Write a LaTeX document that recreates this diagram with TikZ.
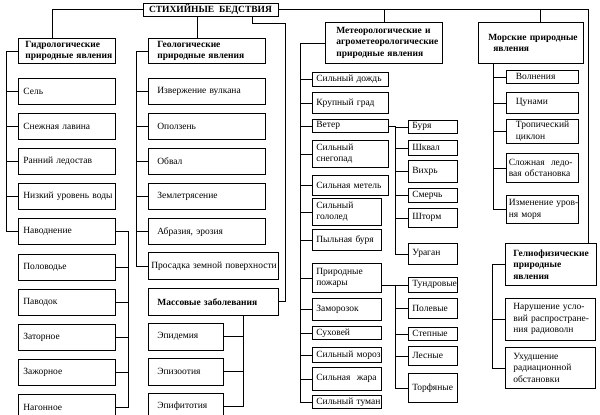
\documentclass[tikz,border=0pt]{standalone}
\usepackage{fontspec}
\setmainfont{Liberation Serif}
\usetikzlibrary{positioning}
\exhyphenpenalty=10000
\hyphenpenalty=10000

\tikzset{
  cell/.style={draw,line width=0.7pt,anchor=north west,align=left,inner ysep=0pt,
    font=\fontsize{9.5}{11.5}\selectfont},
  head/.style={cell,font=\fontsize{9.5}{11.5}\selectfont\bfseries},
  hyd/.style={cell,inner xsep=5pt,text width=87pt,minimum height=26pt},
  geo/.style={cell,inner xsep=9pt,text width=99pt,minimum height=26pt},
  epi/.style={cell,inner xsep=9pt,text width=57pt,minimum height=27pt},
  met/.style={cell,inner xsep=4pt,text width=68pt},
  metn/.style={cell,inner xsep=4pt,text width=61pt},
  sub/.style={cell,inner xsep=4pt,text width=41pt},
  mar/.style={cell,inner xsep=3pt,text width=66pt},
  gel/.style={cell,inner xsep=8pt,text width=74pt},
  link/.style={line width=0.7pt},
}

\begin{document}
\begin{tikzpicture}[x=1pt,y=-1pt]
\useasboundingbox (0,0) rectangle (600,415);

\node[draw,line width=0.7pt,minimum width=135pt,minimum height=13pt,inner sep=0pt,
      font=\fontsize{9.5}{11.5}\selectfont\bfseries] (bedstv) at (210.5,9.5)
  {СТИХИЙНЫЕ\ \ БЕДСТВИЯ};

\node[head,inner xsep=7pt,text width=83pt,minimum height=25pt] (hydro) at (18,38)
  {Гидрологические\\природные~явления};
\node[hyd] (sel) at (18,78) {Сель};
\node[hyd,below=8.4pt of sel] (lavina) {Снежная~лавина};
\node[hyd,below=8.4pt of lavina] (ledostav) {Ранний~ледостав};
\node[hyd,below=8.4pt of ledostav] (voda) {Низкий~уровень~воды};
\node[hyd,below=8.4pt of voda] (navod) {Наводнение};
\node[hyd,below=8.4pt of navod] (polovod) {Половодье};
\node[hyd,below=8.4pt of polovod] (pavodok) {Паводок};
\node[hyd,below=8.4pt of pavodok] (zator) {Заторное};
\node[hyd,below=8.4pt of zator] (zazhor) {Зажорное};
\node[hyd,below=8.4pt of zazhor] (nagon) {Нагонное};

\node[head,inner xsep=9pt,text width=99pt,minimum height=25pt] (geol) at (148,38)
  {Геологические\\природные~явления};
\node[geo] (vulkan) at (148,78) {Извержение~вулкана};
\node[geo,below=8.4pt of vulkan] (opolz) {Оползень};
\node[geo,below=8.4pt of opolz] (obval) {Обвал};
\node[geo,below=8.4pt of obval] (zemlet) {Землетрясение};
\node[geo,below=8.4pt of zemlet] (abraz) {Абразия,~эрозия};
\node[cell,inner xsep=3pt,text width=124pt,minimum height=27pt,
      below=7pt of abraz.south west,anchor=north west] (prosad)
  {Просадка~земной~поверхности};
\node[head,inner xsep=9pt,text width=112pt,minimum height=27pt,
      below=8pt of prosad] (massov) {Массовые~заболевания};
\node[epi,below=7pt of massov.south west,anchor=north west] (epidem) {Эпидемия};
\node[epi,below=7.4pt of epidem] (epizoot) {Эпизоотия};
\node[epi,below=7.4pt of epizoot] (epifit) {Эпифитотия};

\node[head,inner xsep=11pt,text width=95pt,minimum height=41pt] (meteo) at (325,22)
  {Метеорологические~и\\агрометеорологические\\природные~явления};
\node[met,minimum height=14pt] (dozhd) at (312,72) {Сильный~дождь};
\node[met,minimum height=21pt] (grad) at (312,92) {Крупный~град};
\node[met,minimum height=13pt] (veter) at (312,119) {Ветер};
\node[met,minimum height=27pt] (snegopad) at (312,140) {Сильный\\снегопад};
\node[met,minimum height=20pt] (metel) at (312,175) {Сильная~метель};
\node[metn,minimum height=27pt] (gololed) at (312,198) {Сильный\\гололед};
\node[metn,minimum height=21pt] (pylbur) at (312,229) {Пыльная~буря};
\node[metn,minimum height=29pt] (pozhar) at (312,263) {Природные\\пожары};
\node[metn,minimum height=22pt] (zamoroz) at (312,298) {Заморозок};
\node[metn,minimum height=13pt] (suhovei) at (312,326) {Суховей};
\node[metn,minimum height=15pt] (moroz) at (312,347) {Сильный~мороз};
\node[metn,minimum height=23pt] (zhara) at (312,367) {Сильная~~жара};
\node[metn,minimum height=13pt] (tuman) at (312,395) {Сильный~туман};

\node[sub,minimum height=13pt] (burya) at (408,120) {Буря};
\node[sub,minimum height=15pt] (shkval) at (408,140) {Шквал};
\node[sub,minimum height=22pt] (vihr) at (408,160) {Вихрь};
\node[sub,minimum height=14pt] (smerch) at (408,188) {Смерчь};
\node[sub,minimum height=19pt] (shtorm) at (408,208) {Шторм};
\node[sub,minimum height=21pt] (uragan) at (408,243) {Ураган};

\node[sub,minimum height=15pt] (tundr) at (408,277) {Тундровые};
\node[sub,minimum height=20pt] (polev) at (408,298) {Полевые};
\node[sub,minimum height=13pt] (steppe) at (408,327) {Степные};
\node[sub,minimum height=19pt] (les) at (408,346) {Лесные};
\node[sub,minimum height=29pt] (torf) at (408,373) {Торфяные};

\node[head,inner xsep=10pt,text width=85pt,minimum height=41pt] (sea) at (478,22)
  {Морские~природные\\\hspace*{5pt}явления};
\node[mar,inner xsep=10pt,text width=52pt,minimum height=13pt] (volny) at (505.5,70) {Волнения};
\node[mar,inner xsep=10pt,text width=52pt,minimum height=21pt] (cunami) at (505.5,92) {Цунами};
\node[mar,inner xsep=10pt,text width=52pt,minimum height=24pt] (ciklon) at (505.5,119)
  {Тропический\\циклон};
\node[mar,minimum height=29pt] (led) at (505.5,153) {Сложная~~ледо-\\вая~обстановка};
\node[mar,minimum height=28pt] (uroven) at (505.5,195) {Изменение~уров-\\ня~моря};

\node[head,inner xsep=8pt,text width=75pt,minimum height=42pt] (gelio) at (505,243)
  {Гелиофизические\\природные\\явления};
\node[gel,minimum height=42pt] (radio) at (505,298)
  {Нарушение~усло-\\вий~распростране-\\ния~радиоволн};
\node[gel,minimum height=41pt] (radiac) at (505,347)
  {Ухудшение\\радиационной\\обстановки};

\draw[link] (bedstv.west) -| ([xshift=-14.5pt]hydro.north);
\draw[link] ([xshift=-9.5pt]geol.north) -- ([xshift=-9.5pt]geol.north |- bedstv.south);
\draw[link] (bedstv.east) -| ([xshift=37.5pt]gelio.north);
\draw[link] (meteo.north) -- (meteo.north |- bedstv.east);
\draw[link] ([xshift=9.5pt]sea.north) -- ([xshift=9.5pt]sea.north |- bedstv.east);
\draw[link] ([xshift=41.5pt]bedstv.south) -- ++(0,6.5) -| ([xshift=7pt]massov.east)
  -- (massov.east);

\draw[link] (hydro.west) -- ++(-12,0) |- (navod.west)
  (sel.west) -- ++(-12,0) (lavina.west) -- ++(-12,0)
  (ledostav.west) -- ++(-12,0) (voda.west) -- ++(-12,0);
\draw[link] (navod.east) -- ++(13,0) |- (nagon.east)
  (polovod.east) -- ++(13,0) (pavodok.east) -- ++(13,0)
  (zator.east) -- ++(13,0) (zazhor.east) -- ++(13,0);

\draw[link] (geol.west) -- ++(-12,0) |- (prosad.west)
  (vulkan.west) -- ++(-12,0) (opolz.west) -- ++(-12,0) (obval.west) -- ++(-12,0)
  (zemlet.west) -- ++(-12,0) (abraz.west) -- ++(-12,0);
\draw[link] ([xshift=30pt]massov.south) |- (epifit.east)
  (epidem.east) -- ++(20,0) (epizoot.east) -- ++(20,0);

\draw[link] (meteo.west) -- ++(-25,0) |- (tuman.west)
  (dozhd.west) -- ++(-12,0) (grad.west) -- ++(-12,0) (veter.west) -- ++(-12,0)
  (snegopad.west) -- ++(-12,0) (metel.west) -- ++(-12,0) (gololed.west) -- ++(-12,0)
  (pylbur.west) -- ++(-12,0) (pozhar.west) -- ++(-12,0) (zamoroz.west) -- ++(-12,0)
  (suhovei.west) -- ++(-12,0) (moroz.west) -- ++(-12,0) (zhara.west) -- ++(-12,0);
\draw[link] (veter.east) -- ++(7,0) |- (uragan.west)
  (burya.west) -- ++(-13,0) (shkval.west) -- ++(-13,0) (vihr.west) -- ++(-13,0)
  (smerch.west) -- ++(-13,0) (shtorm.west) -- ++(-13,0);
\draw[link] (pozhar.east |- tundr.west) -- (tundr.west)
  ([xshift=-13pt]tundr.west) |- (torf.west)
  (polev.west) -- ++(-13,0) (steppe.west) -- ++(-13,0) (les.west) -- ++(-13,0);

\draw[link] ([xshift=-37.5pt]sea.south) |- (uroven.west)
  (volny.west) -- ++(-12.5,0) (cunami.west) -- ++(-12.5,0)
  (ciklon.west) -- ++(-12.5,0) (led.west) -- ++(-12.5,0);
\draw[link] (gelio.west) -- ++(-13,0) |- (radiac.west)
  (radio.west) -- ++(-13,0);
\end{tikzpicture}
\end{document}
